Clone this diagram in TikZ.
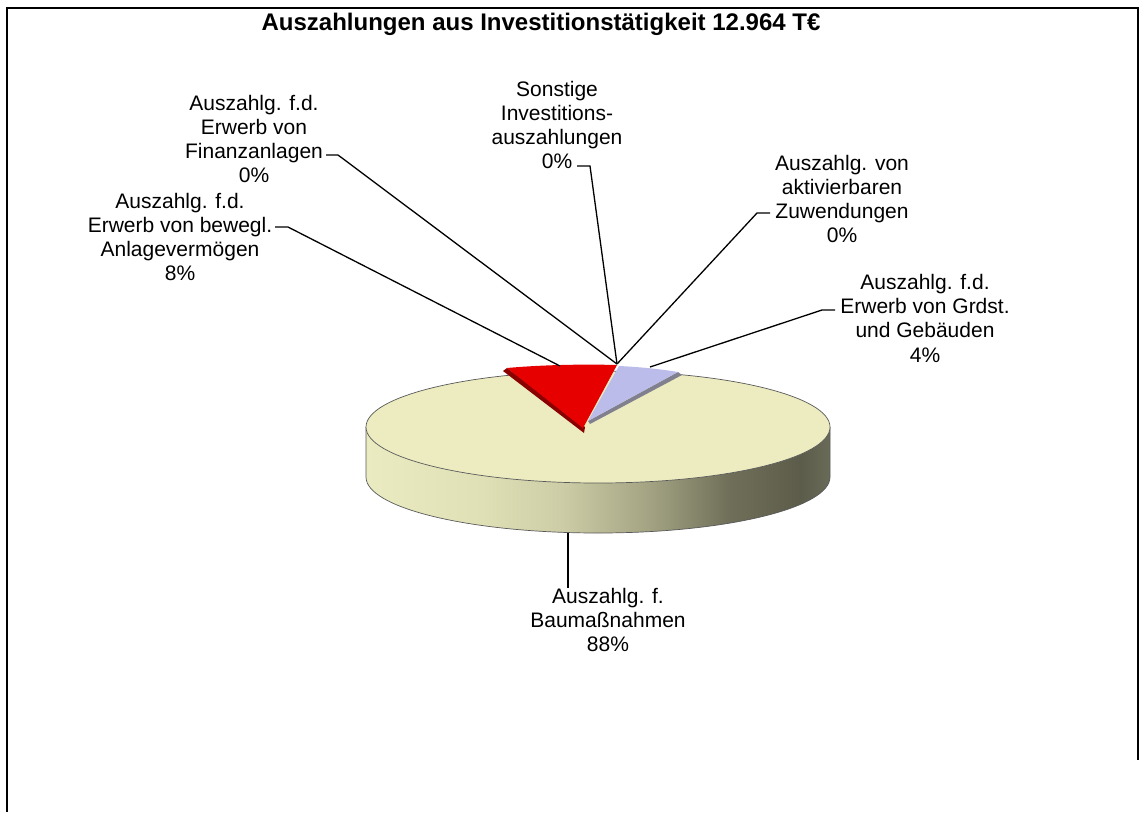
\documentclass[tikz,border=0pt]{standalone}
\usepackage{fontspec}
\setmainfont{Liberation Sans}
\definecolor{cream}{HTML}{EDECC0}
\definecolor{pred}{HTML}{E60000}
\definecolor{preddark}{HTML}{8A0000}
\definecolor{pblue}{HTML}{BCBCEA}
\definecolor{pbluedark}{HTML}{80808F}
\definecolor{sA}{HTML}{EBEBC2}
\definecolor{sB}{HTML}{E0E0B6}
\definecolor{sC}{HTML}{CCCCA6}
\definecolor{sD}{HTML}{A3A383}
\definecolor{sE}{HTML}{6F6F59}
\definecolor{sF}{HTML}{5C5C4A}
\definecolor{sG}{HTML}{6A6A58}
\pgfdeclarehorizontalshading{pieside}{100bp}{color(0bp)=(sA); color(25bp)=(sA); color(37.6bp)=(sB); color(46.2bp)=(sC); color(55.6bp)=(sD); color(64.2bp)=(sE); color(71.8bp)=(sF); color(75bp)=(sG); color(100bp)=(sG)}
\begin{document}
\begin{tikzpicture}[x=1pt,y=-1pt,
  lbl/.style={font=\fontsize{21}{24.3}\selectfont, align=center, inner sep=0pt},
  ttl/.style={font=\bfseries\fontsize{24}{27}\selectfont, inner sep=0pt},
  leader/.style={draw=black, line width=1.3pt},
  pieedge/.style={draw=black!65, line width=0.7pt},
  frame/.style={draw=black, line width=2.5pt}]
\useasboundingbox (0,0) rectangle (1145,812);
\fill[white] (0,0) rectangle (1145,812);
\draw[frame] (7,812) -- (7,8) -- (1138,8) -- (1138,760);

% title
\node[ttl] (title) at (541,24) {Auszahlungen aus Investitionstätigkeit 12.964 T€};

% pie side
\shade[shading=pieside] (366,427) -- (366,477) arc[start angle=180,end angle=0,x radius=232,y radius=56] -- (830,427) arc[start angle=0,end angle=180,x radius=232,y radius=56] -- cycle;
\draw[pieedge] (366,427) -- (366,477) arc[start angle=180,end angle=0,x radius=232,y radius=56] -- (830,427);
% pie top
\filldraw[fill=cream, pieedge] (598,427) ellipse[x radius=232, y radius=56];

% red slice (exploded)
\fill[preddark] (507,368) -- (585,427) -- (584,433) -- (503,371) -- cycle;
\fill[pred] (583,428) -- (507,368) .. controls (540,365) and (580,364) .. (617,365) -- cycle;
% blue slice
\fill[pbluedark] (678,372) -- (682,375) -- (590,424) -- (588,421) -- cycle;
\fill[pblue] (588,421) -- (619,366) .. controls (640,367) and (660,369) .. (678,372) -- cycle;

% connector coordinates
\coordinate (top0) at (617,364);
\coordinate (redtop) at (560,366);
\coordinate (bluetop) at (650,367);
\coordinate (bottom) at (568,533);

% labels
\node[lbl] (l1) at (254,139) {Auszahlg. f.d.\\Erwerb von\\Finanzanlagen\\0\%};
\node[lbl] (l2) at (180,237) {Auszahlg. f.d.\\Erwerb von bewegl.\\Anlagevermögen\\8\%};
\node[lbl] (l3) at (557,125) {Sonstige\\Investitions-\\auszahlungen\\0\%};
\node[lbl] (l4) at (842,199) {Auszahlg. von\\aktivierbaren\\Zuwendungen\\0\%};
\node[lbl] (l5) at (925,318) {Auszahlg. f.d.\\Erwerb von Grdst.\\und Gebäuden\\4\%};
\node[lbl] (l6) at (608,620) {Auszahlg. f.\\Baumaßnahmen\\88\%};

% leader lines
\coordinate (k1a) at (326,155); \coordinate (k1b) at (338,155);
\coordinate (k2a) at (275,227); \coordinate (k2b) at (288,227);
\coordinate (k3a) at (577,166); \coordinate (k3b) at (590,166);
\coordinate (k4a) at (770,213); \coordinate (k4b) at (757,213);
\coordinate (k5a) at (835,310); \coordinate (k5b) at (822,310);
\coordinate (k6) at (568,588);
\draw[leader] (k1a) -- (k1b) -- (top0);
\draw[leader] (k2a) -- (k2b) -- (redtop);
\draw[leader] (k3a) -- (k3b) -- (top0);
\draw[leader] (k4a) -- (k4b) -- (top0);
\draw[leader] (k5a) -- (k5b) -- (bluetop);
\draw[leader] (bottom) -- (k6);
\end{tikzpicture}
\end{document}
